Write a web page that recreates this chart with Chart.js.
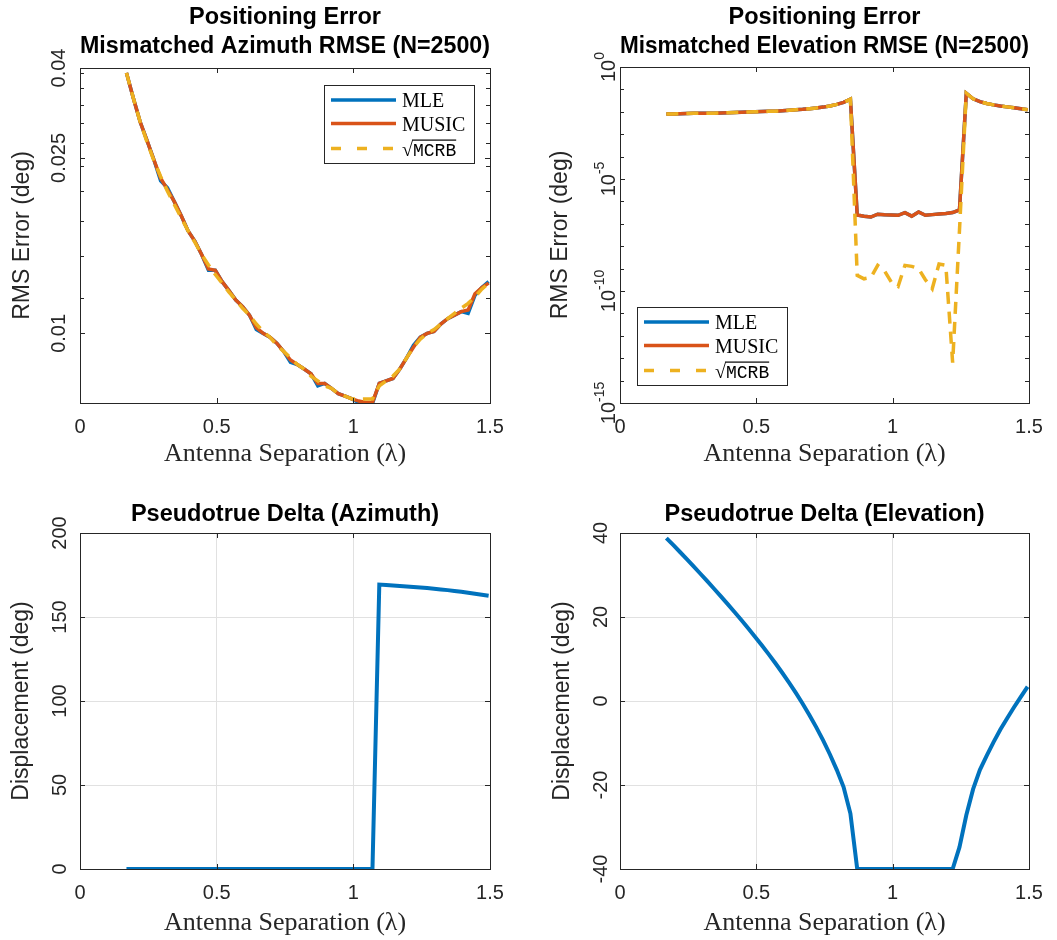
<!DOCTYPE html>
<html><head><meta charset="utf-8">
<script src="https://cdn.jsdelivr.net/npm/chart.js@4.4.1/dist/chart.umd.min.js"></script>
<style>
html,body{margin:0;padding:0;background:#fff;}
#wrap{position:relative;width:1057px;height:940px;overflow:hidden;background:#fff;}
canvas{position:absolute;}
</style></head><body>
<div id="wrap">
<canvas id="c1" width="528" height="470" style="left:0px;top:0px"></canvas>
<canvas id="c2" width="529" height="470" style="left:528px;top:0px"></canvas>
<canvas id="c3" width="528" height="470" style="left:0px;top:470px"></canvas>
<canvas id="c4" width="529" height="470" style="left:528px;top:470px"></canvas>
</div>
<script>
// ---------------- DATA ----------------
const separation = [0.17,0.195,0.22,0.245,0.27,0.295,0.32,0.345,0.37,0.395,0.42,0.445,0.47,0.495,0.52,0.545,0.57,0.595,0.62,0.645,0.67,0.695,0.72,0.745,0.77,0.795,0.82,0.845,0.87,0.895,0.92,0.945,0.97,0.995,1.02,1.045,1.07,1.095,1.12,1.145,1.17,1.195,1.22,1.245,1.27,1.295,1.32,1.345,1.37,1.395,1.42,1.445,1.47,1.495];

const azMLE   = [0.0390,0.0342,0.0302,0.0274,0.0248,0.0222,0.0214,0.0199,0.0185,0.0171,0.0162,0.0151,0.0139,0.0139,0.0131,0.0125,0.0119,0.0115,0.0110,0.0102,0.0100,0.0098,0.0095,0.0091,0.0086,0.0085,0.0083,0.0081,0.0076,0.0077,0.0075,0.0073,0.0072,0.0071,0.00696,0.00693,0.00693,0.0077,0.0078,0.0079,0.0083,0.0088,0.0094,0.0098,0.0100,0.0101,0.0105,0.0108,0.0110,0.0112,0.0111,0.0122,0.0127,0.0131];
const azMUSIC = [0.0390,0.0342,0.0302,0.0274,0.0248,0.0225,0.0212,0.0199,0.0185,0.0171,0.0162,0.0151,0.0140,0.0139,0.0131,0.0125,0.0119,0.0115,0.0110,0.0103,0.0100,0.0098,0.0095,0.0091,0.0087,0.0085,0.0083,0.0081,0.0077,0.0077,0.0075,0.0073,0.0072,0.0071,0.00702,0.00697,0.00697,0.0077,0.0078,0.0079,0.0083,0.0088,0.0093,0.0098,0.0100,0.0101,0.0105,0.0108,0.0110,0.0112,0.0113,0.0123,0.0127,0.0130];
const azMCRB  = [0.0390,0.0342,0.0302,0.0272,0.0247,0.0227,0.0210,0.0196,0.0183,0.0171,0.0161,0.0151,0.0143,0.0136,0.0130,0.0124,0.0119,0.0114,0.0110,0.0105,0.0101,0.0098,0.0094,0.0091,0.0088,0.0085,0.0083,0.0080,0.0078,0.0076,0.0075,0.0073,0.0072,0.0071,0.0071,0.0071,0.0071,0.0076,0.0078,0.0080,0.0083,0.0088,0.0093,0.0097,0.0100,0.0102,0.0105,0.0108,0.0111,0.0114,0.0117,0.0121,0.0126,0.0130];

const elMUSIC = [7.94e-3,7.94e-3,8.13e-3,8.32e-3,8.51e-3,8.51e-3,8.71e-3,8.71e-3,8.91e-3,9.12e-3,9.33e-3,9.55e-3,9.77e-3,1.00e-2,1.02e-2,1.05e-2,1.07e-2,1.12e-2,1.17e-2,1.23e-2,1.29e-2,1.38e-2,1.48e-2,1.62e-2,1.82e-2,2.14e-2,2.63e-2,3.63e-2,
  2.45e-7,2.19e-7,2.00e-7,2.69e-7,2.51e-7,2.45e-7,2.40e-7,3.16e-7,2.19e-7,3.39e-7,2.40e-7,2.57e-7,2.75e-7,2.88e-7,3.16e-7,4.17e-7,
  6.76e-2,3.80e-2,2.82e-2,2.34e-2,2.04e-2,1.82e-2,1.66e-2,1.51e-2,1.38e-2,1.23e-2];
const elMLE = [7.94e-3,7.94e-3,8.13e-3,8.32e-3,8.51e-3,8.51e-3,8.71e-3,8.71e-3,8.91e-3,9.12e-3,9.33e-3,9.55e-3,9.77e-3,1.00e-2,1.02e-2,1.05e-2,1.07e-2,1.12e-2,1.17e-2,1.23e-2,1.29e-2,1.38e-2,1.48e-2,1.62e-2,1.82e-2,2.14e-2,2.63e-2,3.63e-2,
  2.45e-7,2.19e-7,2.00e-7,2.69e-7,2.51e-7,2.45e-7,2.40e-7,3.16e-7,2.19e-7,3.39e-7,2.40e-7,2.57e-7,2.75e-7,2.88e-7,3.16e-7,4.17e-7,
  6.76e-2,3.80e-2,2.82e-2,2.34e-2,2.04e-2,1.82e-2,1.66e-2,1.51e-2,1.38e-2,1.23e-2];
const elMCRB = [7.94e-3,7.94e-3,8.13e-3,8.32e-3,8.51e-3,8.51e-3,8.71e-3,8.71e-3,8.91e-3,9.12e-3,9.33e-3,9.55e-3,9.77e-3,1.00e-2,1.02e-2,1.05e-2,1.07e-2,1.12e-2,1.17e-2,1.23e-2,1.29e-2,1.38e-2,1.48e-2,1.62e-2,1.82e-2,2.14e-2,2.63e-2,3.63e-2,
  5.0e-10,3.5e-10,4.0e-10,1.4e-9,7.9e-10,2.5e-10,1.6e-10,1.4e-9,1.26e-9,1.0e-9,3.2e-10,1.26e-10,1.6e-9,1.4e-9,6.3e-14,5.0e-8,
  6.76e-2,3.80e-2,2.82e-2,2.34e-2,2.04e-2,1.82e-2,1.66e-2,1.51e-2,1.38e-2,1.23e-2];

const ptAz = [0,0,0,0,0,0,0,0,0,0,0,0,0,0,0,0,0,0,0,0,0,0,0,0,0,0,0,0,0,0,0,0,0,0,0,0,0,
  169.3,169.1,168.8,168.5,168.2,167.9,167.6,167.2,166.8,166.4,166.0,165.5,165.0,164.4,163.8,163.2,162.6];
const ptEl = [38.8,37.15,35.48,33.78,32.05,30.3,28.53,26.73,24.9,23.05,21.18,19.27,17.32,15.32,13.27,11.16,8.98,6.73,4.38,1.93,-0.65,-3.38,-6.28,-9.38,-12.73,-16.4,-20.5,-26.8,
  -40,-40,-40,-40,-40,-40,-40,-40,-40,-40,-40,-40,-40,-40,-40,
  -34.8,-27.2,-21.0,-16.4,-13.0,-9.8,-6.8,-4.1,-1.5,1.0,3.4];

const xTicks = [0, 0.5, 1, 1.5];
const azYTicks = [0.01, 0.025, 0.04];
const azYMinor = [0.012,0.015,0.018,0.021,0.024,0.027,0.030,0.033,0.036,0.039];
const elYTicks = [1e-15, 1e-10, 1e-5, 1];
const elYMinor = [1e-14,1e-13,1e-12,1e-11,1e-9,1e-8,1e-7,1e-6,1e-4,1e-3,1e-2,1e-1];
const ptAzYTicks = [0, 50, 100, 150, 200];
const ptElYTicks = [-40, -20, 0, 20, 40];

// ---------------- STYLE ----------------
const BLUE = '#0072BD', ORANGE = '#D95319', YELLOW = '#EDB120', AX = '#262626';
const SANS = '"Liberation Sans", Arial, sans-serif';
const SERIF = '"Liberation Serif", "Times New Roman", serif';
const MONO = '"Liberation Mono", "DejaVu Sans Mono", monospace';
Chart.defaults.font.family = SANS;

function pts(ys) { return separation.map((x, i) => ({x: x, y: ys[i]})); }

function drawYLabels(chart, o) {
  const ctx = chart.ctx, ys = chart.scales.y, a = chart.chartArea;
  ctx.save();
  ctx.fillStyle = AX;
  ys.ticks.forEach(t => {
    const py = ys.getPixelForValue(t.value);
    let main, sup = null;
    if (o.pow10) { main = '10'; sup = String(Math.round(Math.log10(t.value))); }
    else { main = String(t.value); }
    ctx.save();
    ctx.translate(a.left - o.labelOffset, py);
    ctx.rotate(-Math.PI / 2);
    ctx.textAlign = 'left'; ctx.textBaseline = 'alphabetic';
    ctx.font = '20px ' + SANS;
    const w1 = ctx.measureText(main).width;
    let w2 = 0;
    if (sup) { ctx.font = '14px ' + SANS; w2 = ctx.measureText(sup).width; }
    const sx = -(w1 + w2) / 2;
    ctx.font = '20px ' + SANS;
    ctx.fillText(main, sx, 7);
    if (sup) { ctx.font = '14px ' + SANS; ctx.fillText(sup, sx + w1, -4); }
    ctx.restore();
  });
  ctx.restore();
}

function drawBox(chart, o) {
  const ctx = chart.ctx, a = chart.chartArea, xs = chart.scales.x, ys = chart.scales.y;
  ctx.save();
  ctx.strokeStyle = AX; ctx.lineWidth = 1;
  ctx.beginPath();
  xs.ticks.forEach(t => {
    const p = Math.round(xs.getPixelForValue(t.value)) + 0.5;
    ctx.moveTo(p, a.bottom); ctx.lineTo(p, a.bottom - 5);
    ctx.moveTo(p, a.top); ctx.lineTo(p, a.top + 5);
  });
  ys.ticks.forEach(t => {
    const p = Math.round(ys.getPixelForValue(t.value)) + 0.5;
    ctx.moveTo(a.left, p); ctx.lineTo(a.left + 5, p);
    ctx.moveTo(a.right, p); ctx.lineTo(a.right - 5, p);
  });
  (o.minorY || []).forEach(v => {
    const p = Math.round(ys.getPixelForValue(v)) + 0.5;
    ctx.moveTo(a.left, p); ctx.lineTo(a.left + 4, p);
    ctx.moveTo(a.right, p); ctx.lineTo(a.right - 4, p);
  });
  ctx.stroke();
  ctx.strokeRect(Math.round(a.left) + 0.5, Math.round(a.top) + 0.5, Math.round(a.right - a.left), Math.round(a.bottom - a.top));
  ctx.restore();
}

function drawLegend(chart, o) {
  const L = o.legend; if (!L) return;
  const ctx = chart.ctx, a = chart.chartArea;
  const w = 150, h = 78;
  const left = Math.round(L.corner === 'ne' ? a.right - 16 - w : a.left + 17);
  const top = Math.round(L.corner === 'ne' ? a.top + 17 : a.bottom - 18 - h);
  ctx.save();
  ctx.fillStyle = '#fff'; ctx.fillRect(left, top, w, h);
  ctx.strokeStyle = AX; ctx.lineWidth = 1; ctx.strokeRect(left + 0.5, top + 0.5, w, h);
  const rows = [15, 38.5, 63.5];
  chart.data.datasets.forEach((ds, i) => {
    const y = top + rows[i];
    ctx.beginPath();
    ctx.strokeStyle = ds.borderColor; ctx.lineWidth = ds.borderWidth;
    ctx.setLineDash(ds.borderDash ? L.dash : []);
    ctx.moveTo(left + 7, y); ctx.lineTo(left + 72, y); ctx.stroke();
    ctx.setLineDash([]);
    ctx.fillStyle = '#000'; ctx.textAlign = 'left'; ctx.textBaseline = 'alphabetic';
    let tx = left + 78; const base = y + 7;
    const label = ds.label;
    if (label.charAt(0) === '√') {
      ctx.font = '20px ' + SERIF;
      ctx.fillText('√', tx, base);
      tx += ctx.measureText('√').width;
      ctx.font = '18px ' + MONO;
      const body = label.slice(1);
      const bw = ctx.measureText(body).width;
      ctx.fillText(body, tx, base);
      ctx.fillRect(tx - 1, base - 16, bw + 1, 1.2);
    } else {
      ctx.font = '20px ' + SERIF;
      ctx.fillText(label, tx, base);
    }
  });
  ctx.restore();
}

const matlabAxes = {
  id: 'matlabAxes',
  afterDatasetsDraw(chart, args, o) { drawLegend(chart, o); },
  afterDraw(chart, args, o) { drawBox(chart, o); drawYLabels(chart, o); }
};

function makeChart(id, c) {
  return new Chart(document.getElementById(id), {
    type: 'line',
    data: { datasets: c.datasets },
    options: {
      responsive: false, animation: false, devicePixelRatio: 1,
      layout: { padding: { left: 0, right: c.padRight, top: 0, bottom: 0 } },
      elements: { point: { radius: 0 }, line: { tension: 0 } },
      plugins: {
        legend: { display: false },
        tooltip: { enabled: false },
        title: {
          display: true, text: c.title, fullSize: false, color: '#000',
          font: { family: SANS, size: 23.5, weight: 'bold', lineHeight: 29 / 23.5 },
          padding: c.titlePad
        },
        matlabAxes: { legend: c.legend, minorY: c.minorY, pow10: c.pow10, labelOffset: c.labelOffset }
      },
      scales: {
        x: {
          type: 'linear', min: 0, max: 1.5,
          afterBuildTicks: s => { s.ticks = xTicks.map(v => ({ value: v })); },
          afterFit: s => { s.height = c.xH; },
          ticks: { font: { family: SANS, size: 20 }, color: AX, padding: 12, maxRotation: 0, callback: v => String(v) },
          grid: { display: c.grid, drawTicks: false, color: '#e1e1e1', lineWidth: 1 },
          border: { display: false },
          title: { display: true, text: 'Antenna Separation (λ)', color: AX,
                   font: { family: SERIF, size: 26, lineHeight: 1.2 }, padding: { top: 0, bottom: c.xTitlePad } }
        },
        y: {
          type: c.yType, min: c.yMin, max: c.yMax,
          afterBuildTicks: s => { s.ticks = c.yTicks.map(v => ({ value: v })); },
          afterFit: s => { s.width = c.yW; },
          ticks: { display: false },
          grid: { display: c.grid, drawTicks: false, color: '#e1e1e1', lineWidth: 1 },
          border: { display: false },
          title: { display: true, text: c.yTitle, color: AX,
                   font: { family: SANS, size: 23, lineHeight: 1.2 }, padding: { top: c.yTitlePad, bottom: 0 } }
        }
      }
    },
    plugins: [matlabAxes]
  });
}

function trio(mle, music, mcrb) {
  return [
    { label: 'MLE', data: pts(mle), borderColor: BLUE, borderWidth: 3.5, order: 3, fill: false },
    { label: 'MUSIC', data: pts(music), borderColor: ORANGE, borderWidth: 3.5, order: 2, fill: false },
    { label: '√MCRB', data: pts(mcrb), borderColor: YELLOW, borderWidth: 3.5, borderDash: [12, 8], order: 1, fill: false }
  ];
}

makeChart('c1', {
  datasets: trio(azMLE, azMUSIC, azMCRB),
  title: ['Positioning Error', 'Mismatched Azimuth RMSE (N=2500)'],
  titlePad: { top: 3.5, bottom: 6.5 },
  padRight: 38, yW: 80, xH: 67, xTitlePad: 0,
  yType: 'logarithmic', yMin: 0.00695, yMax: 0.04, yTicks: azYTicks, minorY: azYMinor,
  yTitle: 'RMS Error (deg)', yTitlePad: 9, labelOffset: 22.5, pow10: false, grid: false,
  legend: { corner: 'ne', dash: [10, 16] }
});

makeChart('c2', {
  datasets: trio(elMLE, elMUSIC, elMCRB),
  title: ['Positioning Error', 'Mismatched Elevation RMSE (N=2500)'],
  titlePad: { top: 3.5, bottom: 5.5 },
  padRight: 28, yW: 92, xH: 67, xTitlePad: 0,
  yType: 'logarithmic', yMin: 1e-15, yMax: 1, yTicks: elYTicks, minorY: elYMinor,
  yTitle: 'RMS Error (deg)', yTitlePad: 18.5, labelOffset: 12.5, pow10: true, grid: false,
  legend: { corner: 'sw', dash: [10, 16] }
});

makeChart('c3', {
  datasets: [{ label: 'Delta', data: pts(ptAz), borderColor: BLUE, borderWidth: 4, fill: false }],
  title: 'Pseudotrue Delta (Azimuth)',
  titlePad: { top: 30.5, bottom: 3.5 },
  padRight: 38, yW: 80, xH: 71, xTitlePad: 1.5,
  yType: 'linear', yMin: 0, yMax: 200, yTicks: ptAzYTicks, minorY: [],
  yTitle: 'Displacement (deg)', yTitlePad: 8, labelOffset: 21, pow10: false, grid: true,
  legend: null
});

makeChart('c4', {
  datasets: [{ label: 'Delta', data: pts(ptEl), borderColor: BLUE, borderWidth: 4, fill: false }],
  title: 'Pseudotrue Delta (Elevation)',
  titlePad: { top: 30.5, bottom: 3.5 },
  padRight: 28, yW: 92, xH: 71, xTitlePad: 1.5,
  yType: 'linear', yMin: -40, yMax: 40, yTicks: ptElYTicks, minorY: [],
  yTitle: 'Displacement (deg)', yTitlePad: 21, labelOffset: 20, pow10: false, grid: true,
  legend: null
});
</script>
</body></html>
